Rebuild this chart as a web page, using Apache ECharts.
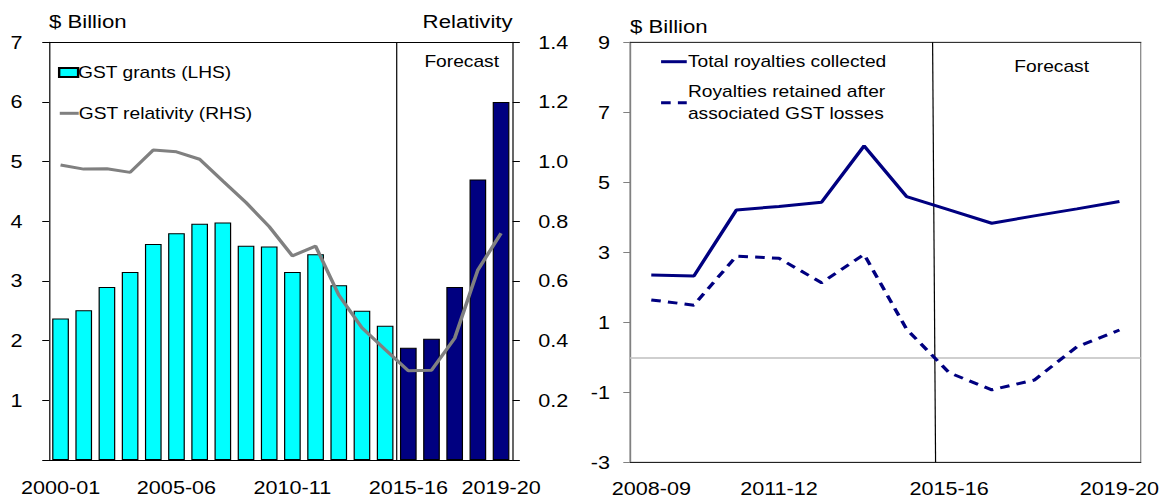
<!DOCTYPE html>
<html>
<head>
<meta charset="utf-8">
<script src="https://cdn.jsdelivr.net/npm/echarts@6/dist/echarts.min.js"></script>
<style>
  html, body { margin: 0; padding: 0; background: #fff; overflow: hidden; }
  /* the chart is laid out on a 975px canvas and widened to 1170px */
  #chart { width: 975px; height: 499px; transform: scaleX(1.2); transform-origin: 0 0; }
</style>
</head>
<body>
<div id="chart"></div>
<script>
// ---- GST grants and relativity ----
const grantYears = ['2000-01', '2001-02', '2002-03', '2003-04', '2004-05', '2005-06', '2006-07',
  '2007-08', '2008-09', '2009-10', '2010-11', '2011-12', '2012-13', '2013-14', '2014-15',
  '2015-16', '2016-17', '2017-18', '2018-19', '2019-20'];
const gstGrants = [2.37, 2.51, 2.90, 3.15, 3.62, 3.80, 3.96, 3.98, 3.59, 3.58, 3.15, 3.45,
  2.93, 2.50, 2.25, 1.88, 2.03, 2.90, 4.70, 6.00];
const gstRelativity = [0.989, 0.975, 0.976, 0.964, 1.039, 1.033, 1.008, 0.935, 0.863, 0.782,
  0.684, 0.717, 0.553, 0.443, 0.370, 0.299, 0.301, 0.408, 0.637, 0.760];
const grantForecastStart = '2015-16';
const grantTickLabels = ['2000-01', '2005-06', '2010-11', '2015-16', '2019-20'];

// ---- Royalties ----
const royaltyYears = ['2008-09', '2009-10', '2010-11', '2011-12', '2012-13', '2013-14',
  '2014-15', '2015-16', '2016-17', '2017-18', '2018-19', '2019-20'];
const totalRoyalties = [2.35, 2.32, 4.21, 4.31, 4.43, 6.04, 4.59, 4.21, 3.83, 4.04, 4.24, 4.45];
const retainedRoyalties = [1.64, 1.49, 2.89, 2.83, 2.13, 2.94, 0.80, -0.44, -0.93, -0.65, 0.30, 0.78];
const royaltyTickLabels = ['2008-09', '2011-12', '2015-16', '2019-20'];
// forecast boundary, in category units, at the top and at the bottom of the plot
const royaltyForecastX = [6.61, 6.68];

const FONT = '"Liberation Sans", Arial, Helvetica, sans-serif';
const NAVY = '#000080';
const CYAN = '#00ffff';
const GREY = '#808080';
const BLACK = '#000000';

const grantForecastIdx = grantYears.indexOf(grantForecastStart);
const grantData = gstGrants.map((v, i) => ({
  value: v,
  itemStyle: { color: i >= grantForecastIdx ? NAVY : CYAN }
}));

const leftMin = 0, leftMax = 7;
const relMin = 0, relMax = 1.4;
const royMin = -3, royMax = 9;

const chart = echarts.init(document.getElementById('chart'), null, { renderer: 'svg' });

const legendText = (extra) => Object.assign({
  fontFamily: FONT, fontSize: 16, lineHeight: 16, color: BLACK
}, extra);

// line legends show only the stroke, no marker
const lineLegend = { itemStyle: { opacity: 0 }, lineStyle: { width: 3 } };

const option = {
  animation: false,
  textStyle: { fontFamily: FONT, color: BLACK },
  grid: [
    { left: 40.8, top: 42.3, width: 386.4, height: 417.7 },
    { left: 525, top: 42.3, width: 425.6, height: 420, show: true, borderColor: GREY, borderWidth: 1 }
  ],
  xAxis: [
    {
      type: 'category', gridIndex: 0, data: grantYears, boundaryGap: true,
      axisLine: { onZero: false, lineStyle: { color: BLACK, width: 1 } },
      axisTick: { show: false },
      axisLabel: {
        interval: (i, v) => grantTickLabels.includes(v),
        fontFamily: FONT, fontSize: 18, color: BLACK, margin: 18.5
      }
    },
    {
      type: 'value', gridIndex: 0, position: 'top',
      min: -0.5, max: grantYears.length - 0.5,
      axisLine: { show: true, onZero: false, lineStyle: { color: BLACK, width: 1 } },
      axisTick: { show: false }, axisLabel: { show: false }, splitLine: { show: false }
    },
    {
      type: 'category', gridIndex: 1, data: royaltyYears, boundaryGap: true,
      axisLine: { onZero: false, lineStyle: { color: '#222', width: 1 } },
      axisTick: { show: false },
      axisLabel: {
        interval: (i, v) => royaltyTickLabels.includes(v),
        fontFamily: FONT, fontSize: 18, color: BLACK, margin: 17
      }
    },
    {
      type: 'value', gridIndex: 1, position: 'top',
      min: -0.5, max: royaltyYears.length - 0.5,
      axisLine: { show: true, onZero: false, lineStyle: { color: '#333', width: 1 } },
      axisTick: { show: false }, axisLabel: { show: false }, splitLine: { show: false }
    }
  ],
  yAxis: [
    {
      type: 'value', gridIndex: 0, position: 'left',
      min: leftMin, max: leftMax, interval: 1,
      name: '$ Billion', nameLocation: 'end', nameGap: 20.6,
      nameTextStyle: { fontFamily: FONT, fontSize: 18.5, color: BLACK, align: 'left', verticalAlign: 'middle' },
      axisLine: { show: true, onZero: false, lineStyle: { color: BLACK, width: 1 } },
      axisTick: { show: true, length: 5.6, lineStyle: { color: BLACK } },
      axisLabel: { fontFamily: FONT, fontSize: 18, color: BLACK, margin: 22,
        formatter: v => (v === 0 ? '' : String(v)) },
      splitLine: { show: false }
    },
    {
      type: 'value', gridIndex: 0, position: 'right',
      min: relMin, max: relMax, interval: 0.2,
      name: 'Relativity', nameLocation: 'end', nameGap: 20.6,
      nameTextStyle: { fontFamily: FONT, fontSize: 18.5, color: BLACK, align: 'right', verticalAlign: 'middle' },
      axisLine: { show: true, onZero: false, lineStyle: { color: BLACK, width: 1 } },
      axisTick: { show: true, length: 6, lineStyle: { color: BLACK } },
      axisLabel: { fontFamily: FONT, fontSize: 18, color: BLACK, margin: 21.3,
        formatter: v => (Math.abs(v) < 1e-9 ? '' : v.toFixed(1)) },
      splitLine: { show: false }
    },
    {
      type: 'value', gridIndex: 1, position: 'left',
      min: royMin, max: royMax, interval: 2,
      name: '$ Billion', nameLocation: 'end', nameGap: 15.6,
      nameTextStyle: { fontFamily: FONT, fontSize: 18.5, color: BLACK, align: 'left', verticalAlign: 'middle' },
      axisLine: { show: true, onZero: false, lineStyle: { color: GREY, width: 1 } },
      axisTick: { show: true, length: 5.6, lineStyle: { color: GREY } },
      axisLabel: { fontFamily: FONT, fontSize: 18, color: BLACK, margin: 16.7 },
      splitLine: { show: false }
    }
  ],
  legend: [
    {
      data: [{ name: 'GST grants (LHS)', icon: 'rect' }],
      left: 48.3, top: 64.5, padding: 0, itemWidth: 15.8, itemHeight: 9,
      textStyle: legendText({ padding: [0, 0, 0, -5] })
    },
    Object.assign({
      data: ['GST relativity (RHS)'],
      left: 48.3, top: 105.3, padding: 0, itemWidth: 15.8, itemHeight: 9,
      textStyle: legendText({ padding: [0, 0, 0, -5] })
    }, lineLegend),
    Object.assign({
      data: ['Total royalties collected'],
      left: 549.4, top: 53.7, padding: 0, itemWidth: 21.4, itemHeight: 9,
      textStyle: legendText({ padding: [0, 0, 0, -4] })
    }, lineLegend),
    Object.assign({
      data: ['Royalties retained after associated GST losses'],
      left: 549.4, top: 69.7, padding: 0, itemWidth: 21.4, itemHeight: 9,
      formatter: () => 'Royalties retained after\nassociated GST losses',
      textStyle: legendText({ lineHeight: 22, padding: [22, 0, 0, -4] })
    }, lineLegend)
  ],
  graphic: [
    {
      type: 'text', x: 384.75, y: 61.7, silent: true,
      style: { text: 'Forecast', fontFamily: FONT, fontSize: 16, fill: BLACK,
        align: 'center', verticalAlign: 'middle', textAlign: 'center', textVerticalAlign: 'middle' }
    },
    {
      type: 'text', x: 876.4, y: 66.7, silent: true,
      style: { text: 'Forecast', fontFamily: FONT, fontSize: 16, fill: BLACK,
        align: 'center', verticalAlign: 'middle', textAlign: 'center', textVerticalAlign: 'middle' }
    }
  ],
  series: [
    {
      name: 'GST grants (LHS)', type: 'bar', xAxisIndex: 0, yAxisIndex: 0,
      data: grantData, barCategoryGap: '28%',
      itemStyle: { color: CYAN, borderColor: BLACK, borderWidth: 1 },
      z: 2
    },
    {
      name: 'GST relativity (RHS)', type: 'line', xAxisIndex: 0, yAxisIndex: 1,
      data: gstRelativity, symbol: 'none',
      lineStyle: { color: GREY, width: 3 }, itemStyle: { color: GREY },
      z: 4
    },
    {
      name: 'grant forecast boundary', type: 'line', xAxisIndex: 1, yAxisIndex: 0,
      data: [[grantForecastIdx - 0.5, leftMin], [grantForecastIdx - 0.5, leftMax]],
      symbol: 'none', silent: true,
      lineStyle: { color: BLACK, width: 1 }, z: 3
    },
    {
      name: 'Total royalties collected', type: 'line', xAxisIndex: 2, yAxisIndex: 2,
      data: totalRoyalties, symbol: 'none',
      lineStyle: { color: NAVY, width: 3 }, itemStyle: { color: NAVY },
      z: 4,
      markLine: {
        silent: true, symbol: 'none', label: { show: false },
        lineStyle: { color: '#bfbfbf', width: 1.6, type: 'solid' },
        data: [{ yAxis: 0 }], z: 1
      }
    },
    {
      name: 'Royalties retained after associated GST losses', type: 'line', xAxisIndex: 2, yAxisIndex: 2,
      data: retainedRoyalties, symbol: 'none',
      lineStyle: { color: NAVY, width: 3, type: [8, 6] }, itemStyle: { color: NAVY },
      z: 4
    },
    {
      name: 'royalty forecast boundary', type: 'line', xAxisIndex: 3, yAxisIndex: 2,
      data: [[royaltyForecastX[0], royMax], [royaltyForecastX[1], royMin]],
      symbol: 'none', silent: true,
      lineStyle: { color: BLACK, width: 1 }, z: 3
    }
  ]
};

chart.setOption(option);
</script>
</body>
</html>
